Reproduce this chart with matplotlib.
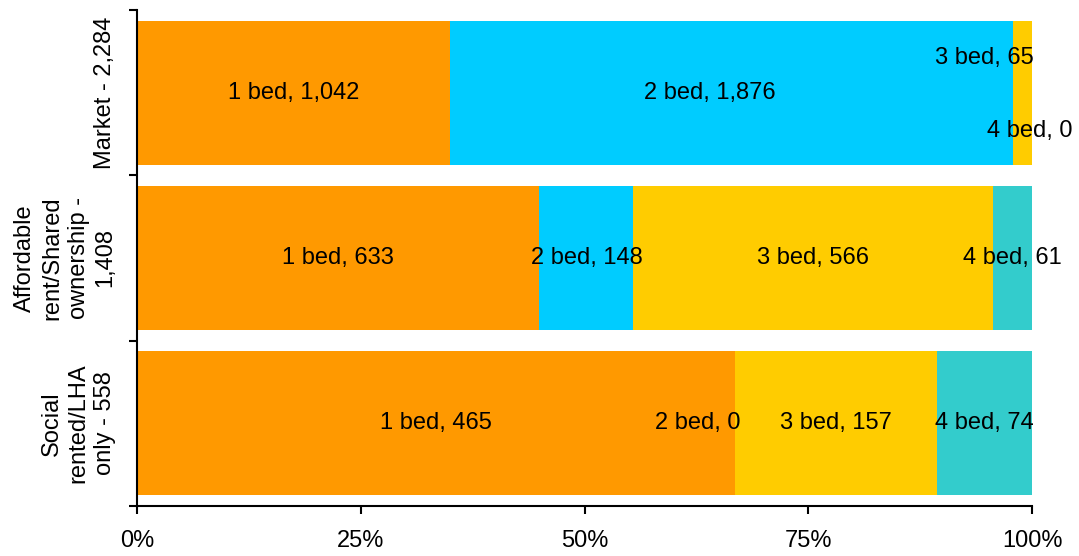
import numpy as np
import matplotlib
matplotlib.use("Agg")
import matplotlib.pyplot as plt
from matplotlib.ticker import FixedLocator, PercentFormatter

plt.rcParams['font.family'] = ['Liberation Sans', 'DejaVu Sans']

groups = ["Market - 2,284",
          "Affordable\nrent/Shared\nownership -\n1,408",
          "Social\nrented/LHA\nonly - 558"]
beds = ["1 bed", "2 bed", "3 bed", "4 bed"]
counts = np.array([
    [1042, 1876, 65, 0],
    [633, 148, 566, 61],
    [465, 0, 157, 74],
])
colors = ["#FF9900", "#00CCFF", "#FFCC00", "#33CCCC"]

# label nudges (pixels) where labels would otherwise collide
nudge = {(0, 1): (-21, 0), (0, 2): (-38, -35), (0, 3): (-2, 38), (2, 1): (-37, 0)}

fig = plt.figure(figsize=(10.79, 5.56), dpi=100)
ax = fig.add_axes([0.127, 0.090, 0.8295, 0.892])

shares = counts / counts.sum(axis=1, keepdims=True) * 100
left = np.zeros(len(groups))
y = np.arange(len(groups))
for j, bed in enumerate(beds):
    ax.barh(y, shares[:, j], left=left, height=0.87, color=colors[j], linewidth=0)
    for i in range(len(groups)):
        cx = left[i] + shares[i, j] / 2
        dx, dy = nudge.get((i, j), (0, 0))
        ax.annotate(f"{bed}, {counts[i, j]:,}", (cx, y[i]), xytext=(dx, -dy),
                    textcoords="offset pixels", ha="center", va="center",
                    fontsize=17, color="black")
    left += shares[:, j]

ax.set_xlim(0, 100)
ax.set_ylim(len(groups) - 0.5, -0.5)
ax.xaxis.set_major_locator(FixedLocator([0, 25, 50, 75, 100]))
ax.xaxis.set_major_formatter(PercentFormatter(decimals=0))

ax.yaxis.set_major_locator(FixedLocator(np.arange(len(groups) + 1) - 0.5))
ax.yaxis.set_minor_locator(FixedLocator(y))
ax.set_yticklabels([], minor=False)
ax.set_yticklabels(groups, minor=True, rotation=90, va="center", ha="right",
                   multialignment="center", fontsize=17, linespacing=1.27)
ax.tick_params(axis="y", which="minor", length=0, pad=15)
ax.tick_params(axis="y", which="major", length=6, width=1.5)
ax.tick_params(axis="x", length=6, width=1.5, pad=11, labelsize=17)

for s in ["top", "right"]:
    ax.spines[s].set_visible(False)
for s in ["left", "bottom"]:
    ax.spines[s].set_linewidth(1.5)

fig.savefig("out.png", dpi=100)
